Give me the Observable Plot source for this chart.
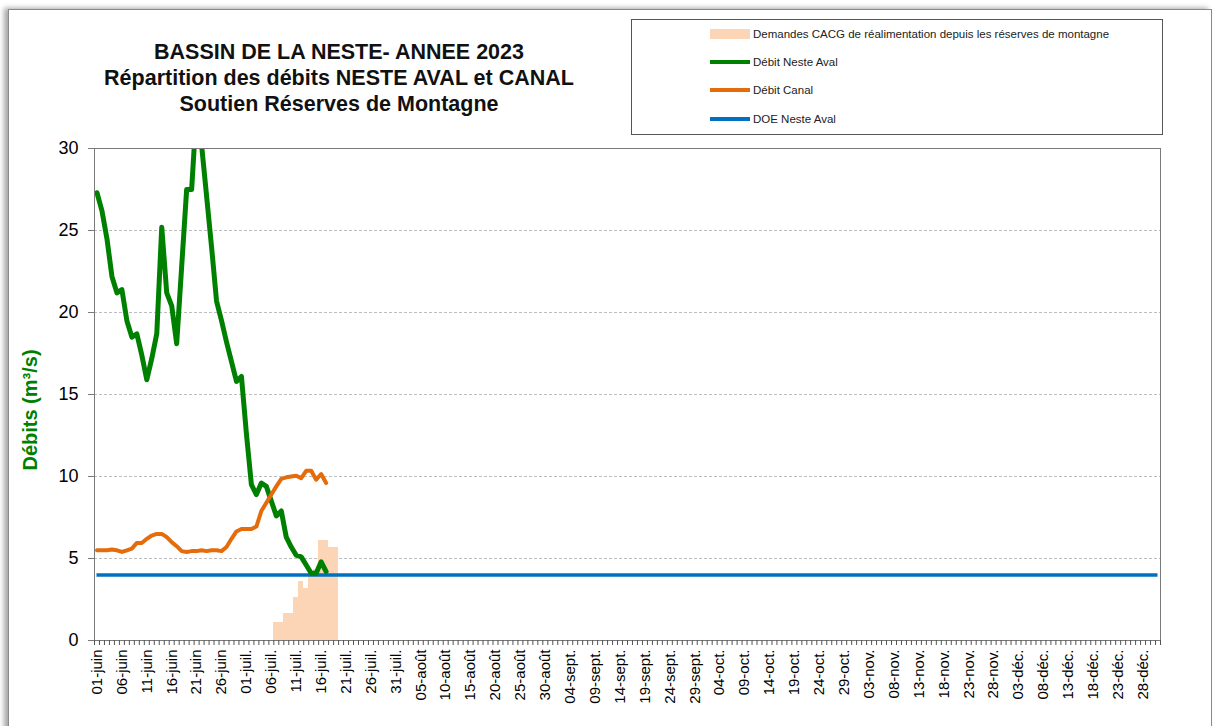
<!DOCTYPE html>
<html><head><meta charset="utf-8">
<script src="https://cdn.jsdelivr.net/npm/d3@7"></script>
<script src="https://cdn.jsdelivr.net/npm/@observablehq/plot@0.6"></script>
<style>
body{margin:0;background:#fff;font-family:Arial,"Liberation Sans",sans-serif;}
#wrap{position:relative;width:1218px;height:726px;overflow:hidden;background:#fff;}
#frame{position:absolute;left:8px;top:9px;width:1202px;height:760px;border:1px solid #8a8a8a;box-shadow:-4px -1px 5px rgba(0,0,0,0.35);}
#chart{position:absolute;left:0;top:0;}
#title{position:absolute;left:59px;width:560px;top:39px;text-align:center;font-weight:bold;font-size:21.5px;line-height:26px;color:#111;white-space:nowrap;}
#legend{position:absolute;left:631px;top:19px;width:530px;height:114px;border:1px solid #555;background:#fff;}
.item{position:absolute;left:78px;height:20px;display:flex;align-items:center;font-size:11.5px;color:#222;white-space:nowrap;}
.sw{width:40px;margin-right:3px;}
#ylab{position:absolute;left:30px;top:410px;transform:translate(-50%,-50%) rotate(-90deg);font-weight:bold;font-size:20px;color:#008000;white-space:nowrap;}
</style></head>
<body>
<div id="wrap">
  <div id="frame"></div>
  <div id="chart"></div>
  <div id="title"></div>
  <div id="legend"></div>
  <div id="ylab"></div>
</div>
<script>
// ---- data ----
const titleLines = ["BASSIN DE LA NESTE- ANNEE 2023", "Répartition des débits NESTE AVAL et CANAL", "Soutien Réserves de Montagne"];
const yTitle = "Débits (m³/s)";
const startDate = "2023-06-01";
const endDate = "2024-01-01";
const monthNames = ["janv.","févr.","mars","avr.","mai","juin","juil.","août","sept.","oct.","nov.","déc."];
const yTicks = [0, 5, 10, 15, 20, 25, 30];

// Débit Neste Aval, daily from 01-juin
const nesteAval = [27.3, 26.2, 24.5, 22.2, 21.2, 21.4, 19.5, 18.5, 18.7, 17.4,
  15.9, 17.2, 18.7, 25.2, 21.2, 20.4, 18.1, 22.8, 27.5, 27.5,
  32.5, 30.2, 27.1, 24.0, 20.7, 19.5, 18.2, 17.0, 15.8, 16.1,
  12.6, 9.5, 8.9, 9.6, 9.4, 8.5, 7.6, 7.9, 6.3, 5.7,
  5.2, 5.1, 4.6, 4.1, 4.1, 4.8, 4.2];
// Débit Canal, daily from 01-juin
const debitCanal = [5.5, 5.5, 5.5, 5.55, 5.5, 5.4, 5.5, 5.6, 5.95, 5.95,
  6.2, 6.4, 6.5, 6.5, 6.3, 6.0, 5.75, 5.45, 5.4, 5.45,
  5.45, 5.5, 5.45, 5.5, 5.5, 5.45, 5.7, 6.2, 6.65, 6.8,
  6.8, 6.8, 6.95, 7.9, 8.4, 8.9, 9.4, 9.85, 9.95, 10.0,
  10.05, 9.9, 10.35, 10.35, 9.8, 10.15, 9.6];
// Demandes CACG, daily from 07-juil.
const demandesStart = "2023-07-07";
const demandes = [1.1, 1.1, 1.65, 1.65, 2.65, 3.6, 3.15, 4.0, 4.3, 6.1, 6.1, 5.65, 5.65];
// DOE Neste Aval
const doe = 4.0;

const seriesNames = ["Demandes CACG de réalimentation depuis les réserves de montagne", "Débit Neste Aval", "Débit Canal", "DOE Neste Aval"];
const colors = {bars: "#FBD5B5", neste: "#008000", canal: "#E46C0A", doe: "#0070C0"};

// ---- build ----
const days = d3.utcDay.range(new Date(startDate), new Date(endDate));
const nDays = days.length;
const dayLabel = i => { const d = days[i]; return d ? String(d.getUTCDate()).padStart(2, "0") + "-" + monthNames[d.getUTCMonth()] : ""; };
const nesteRows = nesteAval.map((v, i) => ({i, v}));
const canalRows = debitCanal.map((v, i) => ({i, v}));
const off = d3.utcDay.count(new Date(startDate), new Date(demandesStart));
const demRows = demandes.map((v, k) => ({i: off + k, v}));

const font = "Arial, 'Liberation Sans', sans-serif";
const chart = Plot.plot({
  width: 1218, height: 726,
  marginLeft: 94, marginRight: 58, marginTop: 148, marginBottom: 86,
  style: {fontFamily: font, color: "#000", background: "transparent"},
  x: {type: "linear", domain: [-0.5, nDays - 0.5]},
  y: {domain: [0, 30]},
  marks: [
    Plot.gridY(yTicks.slice(1, -1), {stroke: "#bdbdbd", strokeOpacity: 1, strokeDasharray: "3,2"}),
    Plot.rectY(demRows, {x1: d => d.i - 0.5, x2: d => d.i + 0.5, y: "v", fill: colors.bars, shapeRendering: "crispEdges"}),
    Plot.ruleY([doe], {x1: 0, x2: nDays - 1, stroke: colors.doe, strokeWidth: 3.5}),
    Plot.line(nesteRows, {x: "i", y: "v", stroke: colors.neste, strokeWidth: 5, strokeLinejoin: "round", clip: true}),
    Plot.line(canalRows, {x: "i", y: "v", stroke: colors.canal, strokeWidth: 4, strokeLinejoin: "round", clip: true}),
    Plot.frame({stroke: "#7a7a7a"}),
    Plot.axisY({ticks: yTicks, tickSize: 6, tickPadding: 10, fontSize: 18, label: null, stroke: "#7a7a7a", tickFormat: d => d}),
    Plot.axisX({ticks: d3.range(-0.5, nDays, 1), tickSize: 5, tickFormat: () => "", label: null, stroke: "#555"}),
    Plot.axisX({ticks: d3.range(0, nDays, 5), tickSize: 0, tickPadding: 9, tickRotate: -90, fontSize: 15, label: null, tickFormat: dayLabel})
  ]
});
document.getElementById("chart").appendChild(chart);

document.getElementById("title").innerHTML = titleLines.map(t => `<div>${t}</div>`).join("");
document.getElementById("ylab").textContent = yTitle;

const leg = document.getElementById("legend");
const legRows = [
  {name: seriesNames[0], color: colors.bars, h: 10, top: 4},
  {name: seriesNames[1], color: colors.neste, h: 3.5, top: 32},
  {name: seriesNames[2], color: colors.canal, h: 3.5, top: 60},
  {name: seriesNames[3], color: colors.doe, h: 3.5, top: 89}
];
legRows.forEach(r => {
  const el = document.createElement("div");
  el.className = "item";
  el.style.top = r.top + "px";
  el.innerHTML = `<div class="sw" style="height:${r.h}px;background:${r.color}"></div><span>${r.name}</span>`;
  leg.appendChild(el);
});
</script>
</body></html>
